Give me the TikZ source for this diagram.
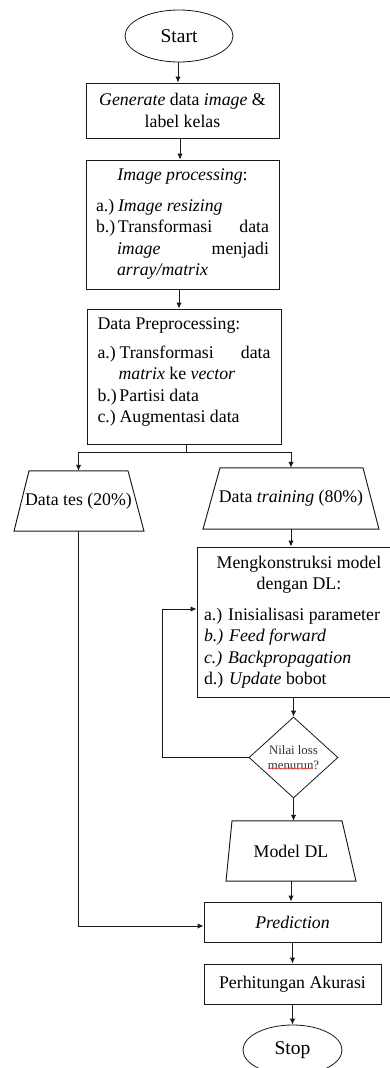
\documentclass[tikz,border=0pt]{standalone}
\usepackage{fontspec}
\setmainfont{Liberation Serif}
\usetikzlibrary{shapes.geometric,arrows.meta,decorations.pathmorphing}

% no hyphenation, allow loose justified lines
\hyphenpenalty=10000
\exhyphenpenalty=10000
\tolerance=10000
\hbadness=10000

% list item with hanging indent: label, text
\newcommand{\itm}[2]{\par\noindent\hangindent=21pt\hangafter=1\makebox[22pt][l]{#1}#2\par}
\newcommand{\bodyfont}{\fontsize{17.8}{21.5}\selectfont}
% trapezoid around a node: node, top-left dx, top-right dx, bottom-left dx, bottom-right dx
\newcommand{\trap}[5]{\draw[ln] ([xshift=#2]#1.north) -- ([xshift=#3]#1.north) -- ([xshift=#5]#1.south) -- ([xshift=#4]#1.south) -- cycle;}

\begin{document}
\begin{tikzpicture}[x=1pt,y=-1pt,
  every node/.style={font=\bodyfont, inner sep=0pt},
  ln/.style={line width=0.95pt, black!90},
  proc/.style={draw=black!90, line width=0.95pt, rectangle},
  term/.style={draw=black!90, line width=0.8pt, ellipse, font=\fontsize{19.5}{22}\selectfont},
  iobox/.style={rectangle},
  decision/.style={draw=black!90, line width=0.8pt, diamond, aspect=1.1, font=\fontsize{12.8}{15.5}\selectfont, text=black!80, align=center},
  arr/.style={ln, -{Latex[length=6pt,width=5.5pt]}}
]
\fill[white] (0,0) rectangle (390,1068);
\useasboundingbox (0,0) rectangle (390,1068);
\clip (0,0) rectangle (390,1068);

% terminals
\node[term, minimum width=108, minimum height=52] (start) at (179,36) {Start};
\node[term, minimum width=99, minimum height=50] (stop) at (292.5,1050) {Stop};

% processing steps
\node[proc, minimum width=193, minimum height=55, align=center] (gen) at (182.5,110.5)
  {\textit{Generate} data \textit{image} \&\\label kelas};

\node[proc, minimum width=193, minimum height=129] (imgp) at (182.5,224.5) {%
  \begin{minipage}{173pt}
    {\centering\textit{Image processing}:\par}
    \vspace{9pt}
    \itm{a.)}{\textit{Image resizing}}
    \itm{b.)}{Transformasi data \textit{image} menjadi \textit{array/matrix}}
  \end{minipage}};

\node[proc, minimum width=194, minimum height=135] (prep) at (184,376.5) {%
  \begin{minipage}{173pt}
    Data Preprocessing:\par
    \vspace{7pt}
    \itm{a.)}{Transformasi data \textit{matrix} ke \textit{vector}}
    \itm{b.)}{Partisi data}
    \itm{c.)}{Augmentasi data}
    \kern8pt
  \end{minipage}};

% data splits
\node[iobox, minimum width=99, minimum height=60] (tes) at (78.5,501) {Data tes (20\%)};
\trap{tes}{-49.5pt}{49.5pt}{-64.5pt}{65.5pt}
\node[iobox, minimum width=143, minimum height=61] (train) at (291,498.5) {Data \textit{training} (80\%)};
\trap{train}{-71pt}{72pt}{-88pt}{88pt}

% model construction
\node[proc, minimum width=204, minimum height=150] (dl) at (299,622) {%
  \begin{minipage}{190pt}
    {\centering Mengkonstruksi model\\dengan DL:\par}
    \vspace{9pt}
    a.) Inisialisasi parameter\par
    \textit{b.) Feed forward}\par
    \textit{c.) Backpropagation}\par
    d.) \textit{Update} bobot\par
  \end{minipage}};

\node[decision, minimum width=89, minimum height=81] (chk) at (293.5,757.5) {Nilai loss\\menurun?};
\draw[red!80, line width=0.5pt, decorate, decoration={snake, amplitude=0.7pt, segment length=2.6pt}]
  ([xshift=-25.5pt,yshift=-11pt]chk.center) -- ([xshift=19pt,yshift=-11pt]chk.center);

\node[iobox, minimum width=110, minimum height=60] (model) at (291,851) {Model DL};
\trap{model}{-59pt}{51pt}{-65pt}{65pt}

\node[proc, minimum width=177, minimum height=40] (pred) at (292.5,922) {\textit{Prediction}};
\node[proc, minimum width=177, minimum height=40] (acc) at (292.5,984) {Perhitungan Akurasi};

% connectors
\draw[arr] ([xshift=-1pt]start.south) -- ([xshift=-1pt]start.south |- gen.north);
\draw[arr] ([xshift=-2.5pt]gen.south) -- ([xshift=-2.5pt]gen.south |- imgp.north);
\draw[arr] ([xshift=-3.5pt]imgp.south) -- ([xshift=-3.5pt]imgp.south |- prep.north);

\coordinate (split) at (186,452);
\draw[ln] (prep.south -| split) -- (split);
\draw[arr] (split) -| (tes.north);
\draw[arr] (split) -| (train.north);

\draw[arr] (train.south) -- (train.south |- dl.north);
\draw[arr] (chk.north |- dl.south) -- (chk.north);

\coordinate (loop) at (162,609);
\draw[arr] (chk.west) -| (loop) -- (loop -| dl.west);

\draw[arr] (chk.south) -- (chk.south |- model.north);
\draw[arr] (model.south) -- (model.south |- pred.north);
\draw[arr] (pred.south) -- (pred.south |- acc.north);
\draw[arr] (acc.south) -- (acc.south |- stop.north);

\draw[arr] (tes.south) |- ([yshift=-4pt]pred.west);
\end{tikzpicture}
\end{document}
